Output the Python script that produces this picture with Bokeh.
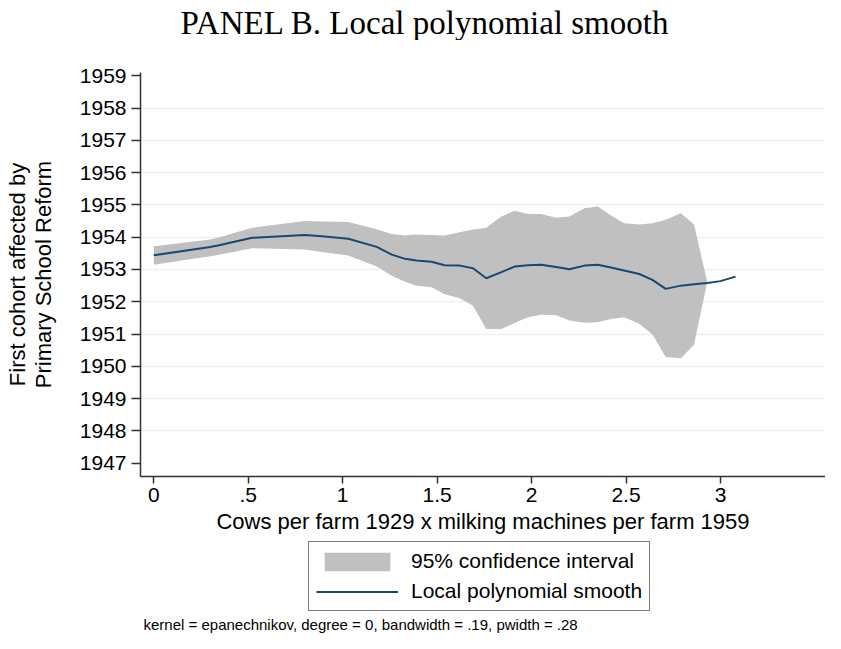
from bokeh.plotting import figure
from bokeh.models import (Range1d, FixedTicker, Legend, LegendItem, Label,
                          ColumnDataSource)
from bokeh.layouts import column
from bokeh.embed import file_html
from bokeh.resources import INLINE

# ---- data ----
x_vals = [0.00, 0.29, 0.34, 0.52, 0.80, 0.89, 1.03, 1.18, 1.26, 1.33, 1.39,
          1.47, 1.54, 1.62, 1.69, 1.76, 1.84, 1.91, 1.98, 2.05, 2.13, 2.20,
          2.28, 2.35, 2.42, 2.49, 2.57, 2.64, 2.71, 2.79, 2.86, 2.93, 3.00,
          3.08]
smooth = [1953.44, 1953.69, 1953.74, 1953.98, 1954.07, 1954.03, 1953.95,
          1953.70, 1953.46, 1953.33, 1953.28, 1953.24, 1953.13, 1953.12,
          1953.04, 1952.73, 1952.92, 1953.09, 1953.13, 1953.15, 1953.08,
          1953.01, 1953.12, 1953.15, 1953.06, 1952.97, 1952.86, 1952.68,
          1952.40, 1952.50, 1952.54, 1952.58, 1952.64, 1952.78]
ci_x = x_vals[:32]
ci_upper = [1953.72, 1953.92, 1953.98, 1954.29, 1954.50, 1954.49, 1954.47,
            1954.25, 1954.10, 1954.05, 1954.08, 1954.07, 1954.05, 1954.15,
            1954.24, 1954.29, 1954.64, 1954.82, 1954.72, 1954.72, 1954.60,
            1954.64, 1954.90, 1954.95, 1954.67, 1954.43, 1954.39, 1954.43,
            1954.54, 1954.74, 1954.39, 1952.61]
ci_lower = [1953.15, 1953.40, 1953.45, 1953.66, 1953.62, 1953.54, 1953.43,
            1953.09, 1952.81, 1952.62, 1952.50, 1952.45, 1952.23, 1952.11,
            1951.88, 1951.16, 1951.16, 1951.34, 1951.52, 1951.60, 1951.58,
            1951.42, 1951.35, 1951.37, 1951.47, 1951.52, 1951.32, 1950.99,
            1950.29, 1950.25, 1950.67, 1952.61]

x_ticks = [0, 0.5, 1, 1.5, 2, 2.5, 3]
x_tick_labels = ["0", ".5", "1", "1.5", "2", "2.5", "3"]
y_ticks = list(range(1947, 1960))
y_grid = list(range(1948, 1959))

title_text = "PANEL B. Local polynomial smooth"
x_label = "Cows per farm 1929 x milking machines per farm 1959"
y_label = "First cohort affected by\nPrimary School Reform"
ci_label = "95% confidence interval"
line_label = "Local polynomial smooth"
note_text = "kernel = epanechnikov, degree = 0, bandwidth = .19, pwidth = .28"

SANS = "Liberation Sans"
SERIF = "Liberation Serif"
NAVY = "#1A476F"
BAND = "#C0C0C0"
AXIS = "#333333"
W = 825


def blank(h):
    f = figure(width=W, height=h, output_backend="svg", toolbar_location=None,
               x_range=Range1d(0, 1), y_range=Range1d(0, 1),
               x_axis_location=None, y_axis_location=None,
               min_border_left=0, min_border_right=0, min_border_top=0,
               min_border_bottom=0)
    f.outline_line_color = None
    f.grid.visible = False
    f.background_fill_color = "white"
    f.border_fill_color = "white"
    return f


band_src = ColumnDataSource(dict(x=ci_x, lo=ci_lower, hi=ci_upper))
line_src = ColumnDataSource(dict(x=x_vals, y=smooth))

# ---- title strip ----
pt = blank(40)
pt.add_layout(Label(x=40, y=18, x_units="screen", y_units="screen",
                    text=title_text, text_font=SERIF, text_font_size="33px",
                    text_color="black", text_baseline="alphabetic",
                    text_align="left"))

# ---- main plot ----
p = figure(width=W, height=500, output_backend="svg", toolbar_location=None,
           x_range=Range1d(-0.0704, 3.556), y_range=Range1d(1946.59, 1959.10),
           min_border_left=140, min_border_right=0, min_border_top=32,
           min_border_bottom=64)
p.outline_line_color = None
p.background_fill_color = "white"
p.border_fill_color = "white"

p.varea(x="x", y1="lo", y2="hi", source=band_src, fill_color=BAND,
        fill_alpha=1.0)
p.line(x="x", y="y", source=line_src, line_color=NAVY, line_width=2)

p.xaxis.ticker = FixedTicker(ticks=x_ticks)
p.xaxis.major_label_overrides = {t: l for t, l in zip(x_ticks, x_tick_labels)}
p.yaxis.ticker = FixedTicker(ticks=y_ticks)
for ax in (p.xaxis, p.yaxis):
    ax.axis_line_color = AXIS
    ax.axis_line_width = 1.5
    ax.major_tick_line_color = AXIS
    ax.major_tick_line_width = 1.5
    ax.major_tick_in = 0
    ax.minor_tick_line_color = None
    ax.major_label_text_font = SANS
    ax.major_label_text_font_size = "21px"
    ax.major_label_text_color = "black"
    ax.axis_label_text_font = SANS
    ax.axis_label_text_font_size = "22px"
    ax.axis_label_text_font_style = "normal"
    ax.axis_label_text_color = "black"
p.xaxis.major_tick_out = 7
p.yaxis.major_tick_out = 9
p.xaxis.major_label_standoff = 4
p.yaxis.major_label_standoff = 5
p.yaxis.major_label_orientation = "horizontal"
p.xaxis.axis_label = x_label
p.yaxis.axis_label = y_label
p.yaxis.axis_label_text_line_height = 1.05
p.xaxis.axis_label_standoff = 4
p.yaxis.axis_label_standoff = 21

p.xgrid.visible = False
p.ygrid.ticker = FixedTicker(ticks=y_grid)
p.ygrid.grid_line_color = "#EAF2F3"
p.ygrid.grid_line_width = 1.5

# ---- legend + note strip (legend keys use the same data, off-range) ----
pl = blank(93)
key_band = pl.varea(x="x", y1="lo", y2="hi", source=band_src,
                    fill_color=BAND, fill_alpha=1.0)
key_line = pl.line(x="x", y="y", source=line_src, line_color=NAVY,
                   line_width=2)
legend = Legend(items=[LegendItem(label=ci_label, renderers=[key_band]),
                       LegendItem(label=line_label, renderers=[key_line])],
                location=(168, 22), orientation="vertical",
                label_text_font=SANS, label_text_font_size="21px",
                label_text_color="black", label_height=23,
                glyph_width=82, glyph_height=23, label_standoff=13,
                padding=7, spacing=6, margin=0,
                border_line_color="black", border_line_width=1,
                background_fill_color="white", background_fill_alpha=1.0)
pl.add_layout(legend)
pl.add_layout(Label(x=3, y=9, x_units="screen", y_units="screen",
                    text=note_text, text_font=SANS, text_font_size="15px",
                    text_color="black", text_baseline="alphabetic",
                    text_align="left"))

layout = column(pt, p, pl, spacing=0)
open("out.html", "w").write(file_html(layout, INLINE))
